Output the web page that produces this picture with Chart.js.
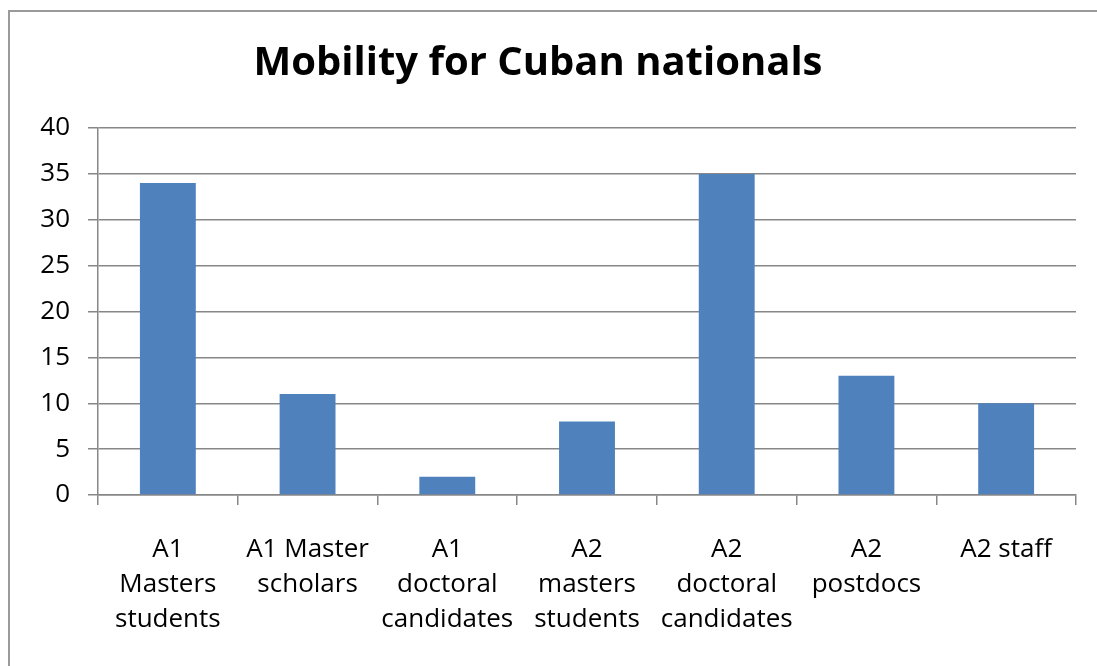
<!DOCTYPE html>
<html>
<head>
<meta charset="utf-8">
<script src="https://cdn.jsdelivr.net/npm/chart.js@4"></script>
<style>
html,body{margin:0;padding:0;background:#fff;}
#wrap{width:1097px;height:666px;position:relative;}
</style>
</head>
<body>
<div id="wrap"><canvas id="c" width="1097" height="666"></canvas></div>
<script>
const chartTitle = "Mobility for Cuban nationals";
const categories = [
  ["A1","Masters","students"],
  ["A1 Master","scholars"],
  ["A1","doctoral","candidates"],
  ["A2","masters","students"],
  ["A2","doctoral","candidates"],
  ["A2","postdocs"],
  ["A2 staff"]
];
const values = [34, 11, 2, 8, 35, 13, 10];
const yTicks = [0, 5, 10, 15, 20, 25, 30, 35, 40];

const frame = {
  id: 'frame',
  beforeDraw(chart) {
    const ctx = chart.ctx;
    ctx.save();
    ctx.fillStyle = '#fff';
    ctx.fillRect(0, 0, chart.width, chart.height);
    ctx.strokeStyle = '#9a9a9a';
    ctx.lineWidth = 2;
    ctx.strokeRect(9, 11, 1300, 1000);
    ctx.restore();
  }
};

const FONT = "'Open Sans', Lato, sans-serif";
new Chart(document.getElementById('c'), {
  type: 'bar',
  data: {
    labels: categories,
    datasets: [{
      data: values,
      backgroundColor: '#4f81bd',
      borderWidth: 0,
      categoryPercentage: 1.0,
      barPercentage: 0.4
    }]
  },
  plugins: [frame],
  options: {
    responsive: false,
    animation: false,
    devicePixelRatio: 1,
    layout: { padding: { left: 0, right: 21, top: 0, bottom: 0 } },
    plugins: {
      legend: { display: false },
      tooltip: { enabled: false },
      title: {
        display: true,
        text: chartTitle,
        color: '#000',
        font: { family: FONT, size: 40, weight: 'bold' },
        padding: { top: 40, bottom: 40 }
      }
    },
    scales: {
      x: {
        grid: { display: true, drawOnChartArea: false, drawTicks: true, tickLength: 10, color: '#878787', lineWidth: 1.5 },
        border: { display: true, color: '#878787', width: 1.5 },
        ticks: {
          color: '#000',
          font: { family: FONT, size: 26, lineHeight: 1.35 },
          maxRotation: 0, minRotation: 0, autoSkip: false,
          padding: 27
        },
        afterFit(scale) { scale.height = 171; }
      },
      y: {
        min: 0, max: 40,
        afterBuildTicks(scale) { scale.ticks = yTicks.map(v => ({ value: v })); },
        grid: { color: '#878787', lineWidth: 1.5, tickLength: 10 },
        border: { display: true, color: '#878787', width: 1.5 },
        ticks: {
          color: '#000',
          font: { family: FONT, size: 26 },
          padding: 18
        },
        afterFit(scale) { scale.width = 98; }
      }
    }
  }
});
</script>
</body>
</html>
